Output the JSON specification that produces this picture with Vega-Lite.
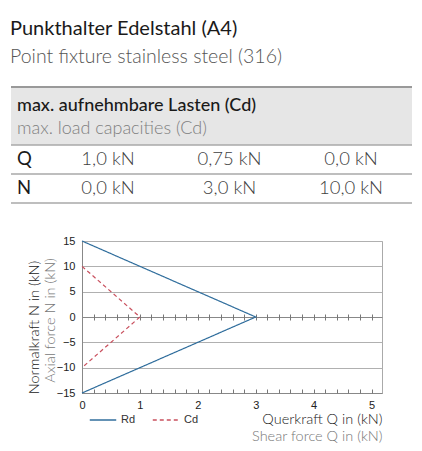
{
  "$schema": "https://vega.github.io/schema/vega-lite/v6.json",
  "padding": {"left": 10, "top": 19, "right": 0, "bottom": 0},
  "config": {"font": "Lato", "view": {"stroke": null}},
  "datasets": {
    "lines": [
      {"series": "Rd", "q": 0, "n": 15, "i": 0},
      {"series": "Rd", "q": 3, "n": 0, "i": 1},
      {"series": "Rd", "q": 0, "n": -15, "i": 2},
      {"series": "Cd", "q": 0, "n": 10, "i": 0},
      {"series": "Cd", "q": 1, "n": 0, "i": 1},
      {"series": "Cd", "q": 0, "n": -10, "i": 2}
    ],
    "cells": [
      {"row": "Q", "col": "c1", "label": "1,0 kN"},
      {"row": "Q", "col": "c2", "label": "0,75 kN"},
      {"row": "Q", "col": "c3", "label": "0,0 kN"},
      {"row": "N", "col": "c1", "label": "0,0 kN"},
      {"row": "N", "col": "c2", "label": "3,0 kN"},
      {"row": "N", "col": "c3", "label": "10,0 kN"}
    ]
  },
  "title": {
    "text": "Punkthalter Edelstahl (A4)",
    "subtitle": "Point fixture stainless steel (316)",
    "anchor": "start",
    "frame": "bounds",
    "offset": 20,
    "font": "Lato",
    "fontSize": 20,
    "fontWeight": 400,
    "color": "#1a1a1a",
    "subtitleFont": "Lato",
    "subtitleFontSize": 19.5,
    "subtitleFontWeight": 300,
    "subtitleColor": "#555555",
    "subtitlePadding": 8.5
  },
  "spacing": 30,
  "vconcat": [
    {
      "width": 401,
      "height": 116,
      "layer": [
        {
          "data": {"values": [{"row": "h1"}, {"row": "h2"}]},
          "mark": {"type": "rect", "fill": "#e6e6e6"},
          "encoding": {
            "y": {"field": "row", "type": "nominal", "scale": {"type": "band", "domain": ["h1", "h2", "Q", "N"], "paddingInner": 0, "paddingOuter": 0}, "axis": null},
            "x": {"value": 0},
            "x2": {"value": "width"}
          }
        },
        {
          "data": {"values": [{"row": "h1"}]},
          "mark": {"type": "rule", "stroke": "#999999", "strokeWidth": 2},
          "encoding": {
            "y": {"field": "row", "type": "nominal", "bandPosition": 0, "scale": {"type": "band", "domain": ["h1", "h2", "Q", "N"], "paddingInner": 0, "paddingOuter": 0}, "axis": null}
          }
        },
        {
          "data": {"values": [{"row": "h2"}, {"row": "Q"}, {"row": "N"}]},
          "mark": {"type": "rule", "stroke": "#a8a8a8", "strokeWidth": 1.5},
          "encoding": {
            "y": {"field": "row", "type": "nominal", "bandPosition": 1, "scale": {"type": "band", "domain": ["h1", "h2", "Q", "N"], "paddingInner": 0, "paddingOuter": 0}, "axis": null}
          }
        },
        {
          "data": {"values": [{"row": "h1", "label": "max. aufnehmbare Lasten (Cd)"}]},
          "mark": {"type": "text", "align": "left", "baseline": "alphabetic", "dx": 6, "dy": 9.5, "font": "Lato", "fontSize": 18, "fontWeight": 500, "fill": "#1a1a1a"},
          "encoding": {
            "y": {"field": "row", "type": "nominal", "bandPosition": 0.5, "scale": {"type": "band", "domain": ["h1", "h2", "Q", "N"], "paddingInner": 0, "paddingOuter": 0}, "axis": null},
            "x": {"value": 0},
            "text": {"field": "label"}
          }
        },
        {
          "data": {"values": [{"row": "h2", "label": "max. load capacities (Cd)"}]},
          "mark": {"type": "text", "align": "left", "baseline": "alphabetic", "dx": 6, "dy": 3.5, "font": "Lato", "fontSize": 18, "fontWeight": 300, "fill": "#808080"},
          "encoding": {
            "y": {"field": "row", "type": "nominal", "bandPosition": 0.5, "scale": {"type": "band", "domain": ["h1", "h2", "Q", "N"], "paddingInner": 0, "paddingOuter": 0}, "axis": null},
            "x": {"value": 0},
            "text": {"field": "label"}
          }
        },
        {
          "data": {"values": [{"row": "Q", "label": "Q"}, {"row": "N", "label": "N"}]},
          "mark": {"type": "text", "align": "left", "baseline": "alphabetic", "dx": 6, "dy": 5.5, "font": "Lato", "fontSize": 18.5, "fontWeight": 400, "fill": "#1a1a1a"},
          "encoding": {
            "y": {"field": "row", "type": "nominal", "bandPosition": 0.5, "scale": {"type": "band", "domain": ["h1", "h2", "Q", "N"], "paddingInner": 0, "paddingOuter": 0}, "axis": null},
            "x": {"value": 0},
            "text": {"field": "label"}
          }
        },
        {
          "data": {"name": "cells"},
          "mark": {"type": "text", "align": "center", "baseline": "alphabetic", "dy": 5.5, "font": "Lato", "fontSize": 18.5, "fontWeight": 300, "fill": "#404040"},
          "encoding": {
            "y": {"field": "row", "type": "nominal", "bandPosition": 0.5, "scale": {"type": "band", "domain": ["h1", "h2", "Q", "N"], "paddingInner": 0, "paddingOuter": 0}, "axis": null},
            "x": {"field": "col", "type": "nominal", "scale": {"type": "point", "domain": ["c1", "c2", "c3"], "range": [97, 340], "padding": 0}, "axis": null},
            "text": {"field": "label"}
          }
        }
      ]
    },
    {
      "spacing": 13,
      "hconcat": [
        {
          "width": 1,
          "height": 1,
          "data": {"values": []},
          "mark": {"type": "point", "opacity": 0},
          "encoding": {}
        },
        {
          "width": 300,
          "height": 152,
          "view": {"stroke": "#aaaaaa"},
          "data": {"name": "lines"},
          "resolve": {
            "scale": {"x": "independent", "y": "independent"},
            "axis": {"x": "independent", "y": "independent"}
          },
          "layer": [
            {
              "mark": {"type": "line", "strokeWidth": 1.2},
              "encoding": {
                "x": {
                  "field": "q", "type": "quantitative",
                  "scale": {"domain": [0, 5.18], "nice": false, "zero": false},
                  "axis": {
                    "orient": "bottom", "values": [0, 1, 2, 3, 4, 5], "ticks": false, "domain": true, "domainColor": "#888888", "grid": false,
                    "labelFont": "Liberation Sans", "labelFontSize": 11, "labelColor": "#222222", "labelPadding": 6, "labelFlush": false,
                    "title": "Querkraft Q in (kN)", "titleFont": "Lato", "titleFontSize": 14.5, "titleFontWeight": 300, "titleColor": "#222222",
                    "titleAnchor": "end", "titleAlign": "right", "titleBaseline": "top", "titleX": 300, "titleY": 19.5
                  }
                },
                "y": {
                  "field": "n", "type": "quantitative",
                  "scale": {"domain": [-15, 15], "nice": false, "zero": false},
                  "axis": {
                    "orient": "left", "values": [-15, -10, -5, 0, 5, 10, 15], "ticks": false, "domain": true, "domainColor": "#888888",
                    "grid": true, "gridColor": {"condition": {"test": "datum.value === 0", "value": "#888888"}, "value": "#b0b0b0"},
                    "labelFont": "Liberation Sans", "labelFontSize": 11, "labelColor": "#222222", "labelPadding": 7,
                    "title": "Axial force N in (kN)", "titleFont": "Lato", "titleFontSize": 14.5, "titleFontWeight": 300, "titleColor": "#777777",
                    "titleAngle": -90, "titleBaseline": "bottom", "titleAlign": "center", "titleX": -25, "titleY": 79
                  }
                },
                "color": {
                  "field": "series", "type": "nominal",
                  "scale": {"domain": ["Rd", "Cd"], "range": ["#2f6d9c", "#c9505e"]},
                  "legend": {"title": null, "orient": "none", "legendX": 78, "legendY": 319, "direction": "horizontal", "symbolType": "stroke", "symbolSize": 700, "symbolStrokeWidth": 1.3, "labelFont": "Liberation Sans", "labelFontSize": 11, "labelColor": "#333333", "labelOffset": 4, "columnPadding": 14, "padding": 0}
                },
                "strokeDash": {
                  "field": "series", "type": "nominal",
                  "scale": {"domain": ["Rd", "Cd"], "range": [[1, 0], [4, 3]]},
                  "legend": {"title": null, "orient": "none", "legendX": 78, "legendY": 319, "direction": "horizontal", "symbolType": "stroke", "symbolSize": 700, "symbolStrokeWidth": 1.3, "labelFont": "Liberation Sans", "labelFontSize": 11, "labelColor": "#333333", "labelOffset": 4, "columnPadding": 14, "padding": 0}
                },
                "order": {"field": "i", "type": "quantitative"}
              }
            },
            {
              "mark": {"type": "line", "opacity": 0},
              "encoding": {
                "x": {
                  "field": "q", "type": "quantitative",
                  "scale": {"domain": [0, 5.18], "nice": false, "zero": false},
                  "axis": {
                    "orient": "bottom", "offset": -79, "values": [0, 0.2, 0.4, 0.6, 0.8, 1, 1.2, 1.4, 1.6, 1.8, 2, 2.2, 2.4, 2.6, 2.8, 3, 3.2, 3.4, 3.6, 3.8, 4, 4.2, 4.4, 4.6, 4.8, 5],
                    "labels": false, "domain": false, "ticks": true, "tickSize": 6, "tickColor": "#777777", "grid": false, "title": null
                  }
                },
                "y": {
                  "field": "n", "type": "quantitative",
                  "scale": {"domain": [-15, 15], "nice": false, "zero": false},
                  "axis": {
                    "orient": "left", "labels": false, "ticks": false, "domain": false, "grid": false,
                    "title": "Normalkraft N in (kN)", "titleFont": "Lato", "titleFontSize": 14.5, "titleFontWeight": 300, "titleColor": "#222222",
                    "titleAngle": -90, "titleBaseline": "bottom", "titleAlign": "center", "titleX": -41, "titleY": 86
                  }
                },
                "detail": {"field": "series"},
                "order": {"field": "i", "type": "quantitative"}
              }
            },
            {
              "mark": {"type": "line", "opacity": 0},
              "encoding": {
                "x": {
                  "field": "q", "type": "quantitative",
                  "scale": {"domain": [0, 5.18], "nice": false, "zero": false},
                  "axis": {
                    "orient": "bottom", "offset": -4, "values": [0, 0.2, 0.4, 0.6, 0.8, 1, 1.2, 1.4, 1.6, 1.8, 2, 2.2, 2.4, 2.6, 2.8, 3, 3.2, 3.4, 3.6, 3.8, 4, 4.2, 4.4, 4.6, 4.8, 5],
                    "labels": false, "domain": false, "ticks": true, "tickSize": 4, "tickColor": "#777777", "grid": false, "title": null
                  }
                },
                "y": {
                  "field": "n", "type": "quantitative",
                  "scale": {"domain": [-15, 15], "nice": false, "zero": false},
                  "axis": null
                },
                "detail": {"field": "series"},
                "order": {"field": "i", "type": "quantitative"}
              }
            },
            {
              "mark": {"type": "line", "opacity": 0},
              "encoding": {
                "x": {
                  "field": "q", "type": "quantitative",
                  "scale": {"domain": [0, 5.18], "nice": false, "zero": false},
                  "axis": {
                    "orient": "bottom", "labels": false, "domain": false, "ticks": false, "grid": false,
                    "title": "Shear force Q in (kN)", "titleFont": "Lato", "titleFontSize": 14.5, "titleFontWeight": 300, "titleColor": "#777777",
                    "titleAnchor": "end", "titleAlign": "right", "titleBaseline": "top", "titleX": 300, "titleY": 36
                  }
                },
                "y": {
                  "field": "n", "type": "quantitative",
                  "scale": {"domain": [-15, 15], "nice": false, "zero": false},
                  "axis": null
                },
                "detail": {"field": "series"},
                "order": {"field": "i", "type": "quantitative"}
              }
            }
          ]
        }
      ]
    }
  ]
}
